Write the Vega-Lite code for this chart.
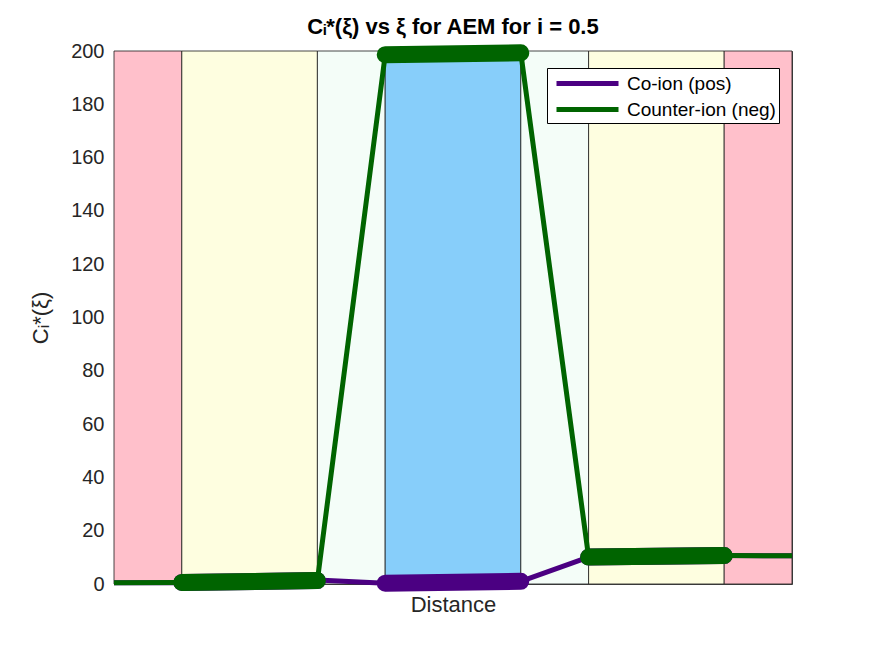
{
  "$schema": "https://vega.github.io/schema/vega-lite/v6.json",
  "width": 678,
  "height": 533,
  "autosize": "none",
  "padding": {"left": 114, "top": 51, "right": 83, "bottom": 72},
  "background": "white",
  "title": {"text": "Cᵢ*(ξ) vs ξ for AEM for i = 0.5", "fontSize": 22, "fontWeight": "bold", "font": "Liberation Sans", "color": "#000000", "offset": 16, "dy": 36, "anchor": "middle", "frame": "group"},
  "config": {
    "view": {"stroke": "#4d4d4d", "strokeWidth": 1},
    "font": "Liberation Sans",
    "axis": {"grid": false, "domainColor": "#4d4d4d", "tickColor": "#262626", "labelColor": "#262626", "titleColor": "#262626", "labelFontSize": 20, "titleFontSize": 22, "titleFontWeight": "normal", "labelFont": "Liberation Sans", "titleFont": "Liberation Sans"}
  },
  "datasets": {
    "zones": [
      {"zone": "Bulk", "x0": 0, "x1": 1},
      {"zone": "Diffusion layer", "x0": 1, "x1": 3},
      {"zone": "Interface", "x0": 3, "x1": 4},
      {"zone": "Membrane", "x0": 4, "x1": 6},
      {"zone": "Interface", "x0": 6, "x1": 7},
      {"zone": "Diffusion layer", "x0": 7, "x1": 9},
      {"zone": "Bulk", "x0": 9, "x1": 10}
    ],
    "profile": [
      {"ion": "Co-ion (pos)", "x": 0, "c": 0.5},
      {"ion": "Co-ion (pos)", "x": 1, "c": 0.5},
      {"ion": "Co-ion (pos)", "x": 3, "c": 1.5},
      {"ion": "Co-ion (pos)", "x": 4, "c": 0.3},
      {"ion": "Co-ion (pos)", "x": 6, "c": 1.0},
      {"ion": "Co-ion (pos)", "x": 7, "c": 10.1},
      {"ion": "Co-ion (pos)", "x": 9, "c": 10.7},
      {"ion": "Co-ion (pos)", "x": 10, "c": 10.6},
      {"ion": "Counter-ion (neg)", "x": 0, "c": 0.5},
      {"ion": "Counter-ion (neg)", "x": 1, "c": 0.6},
      {"ion": "Counter-ion (neg)", "x": 3, "c": 1.3},
      {"ion": "Counter-ion (neg)", "x": 4, "c": 198.6},
      {"ion": "Counter-ion (neg)", "x": 6, "c": 199.3},
      {"ion": "Counter-ion (neg)", "x": 7, "c": 10.1},
      {"ion": "Counter-ion (neg)", "x": 9, "c": 10.7},
      {"ion": "Counter-ion (neg)", "x": 10, "c": 10.6}
    ],
    "inside": [
      {"ion": "Co-ion (pos)", "seg": "DL1", "x": 1, "c": 0.6},
      {"ion": "Co-ion (pos)", "seg": "DL1", "x": 3, "c": 1.3},
      {"ion": "Co-ion (pos)", "seg": "M", "x": 4, "c": 0.3},
      {"ion": "Co-ion (pos)", "seg": "M", "x": 6, "c": 1.0},
      {"ion": "Co-ion (pos)", "seg": "DL2", "x": 7, "c": 10.1},
      {"ion": "Co-ion (pos)", "seg": "DL2", "x": 9, "c": 10.7},
      {"ion": "Counter-ion (neg)", "seg": "DL1", "x": 1, "c": 0.6},
      {"ion": "Counter-ion (neg)", "seg": "DL1", "x": 3, "c": 1.3},
      {"ion": "Counter-ion (neg)", "seg": "M", "x": 4, "c": 198.6},
      {"ion": "Counter-ion (neg)", "seg": "M", "x": 6, "c": 199.3},
      {"ion": "Counter-ion (neg)", "seg": "DL2", "x": 7, "c": 10.1},
      {"ion": "Counter-ion (neg)", "seg": "DL2", "x": 9, "c": 10.7}
    ]
  },
  "layer": [
    {
      "data": {"name": "zones"},
      "mark": {"type": "rect", "stroke": "#1a1a1a", "strokeWidth": 0.8},
      "encoding": {
        "x": {"field": "x0", "type": "quantitative", "scale": {"domain": [0, 10], "nice": false, "zero": false}, "axis": {"labels": false, "ticks": false, "title": "Distance", "titlePadding": 10}},
        "x2": {"field": "x1"},
        "y": {"datum": 0, "type": "quantitative", "scale": {"domain": [0, 200], "nice": false}, "axis": {"values": [0,20,40,60,80,100,120,140,160,180,200], "tickSize": -6, "labelPadding": 16, "title": "Cᵢ*(ξ)", "titlePadding": 18}},
        "y2": {"datum": 200},
        "fill": {"field": "zone", "type": "nominal", "scale": {"domain": ["Bulk", "Diffusion layer", "Interface", "Membrane"], "range": ["#ffc0cb", "#fefee0", "#f4fdf8", "#87cefa"]}, "legend": null}
      }
    },
    {
      "data": {"name": "profile"},
      "transform": [{"filter": "datum.ion === 'Co-ion (pos)'"}],
      "mark": {"type": "line", "strokeWidth": 5, "strokeJoin": "round"},
      "encoding": {
        "x": {"field": "x", "type": "quantitative"},
        "y": {"field": "c", "type": "quantitative"},
        "stroke": {"field": "ion", "type": "nominal", "scale": {"domain": ["Co-ion (pos)", "Counter-ion (neg)"], "range": ["#4b0082", "#006400"]},
          "legend": {"title": null, "orient": "none", "legendX": 433, "legendY": 17, "fillColor": "white", "strokeColor": "#000000", "padding": 3, "labelFontSize": 19, "labelFont": "Liberation Sans", "labelColor": "#000000", "symbolType": "M-0.6,0H5.6", "symbolSize": 400, "symbolStrokeWidth": 5, "rowPadding": 3, "labelOffset": 52}}
      }
    },
    {
      "data": {"name": "inside"},
      "transform": [{"filter": "datum.ion === 'Co-ion (pos)'"}],
      "mark": {"type": "line", "strokeWidth": 17, "strokeCap": "round"},
      "encoding": {
        "x": {"field": "x", "type": "quantitative"},
        "y": {"field": "c", "type": "quantitative"},
        "detail": {"field": "seg"},
        "stroke": {"field": "ion", "type": "nominal"}
      }
    },
    {
      "data": {"name": "profile"},
      "transform": [{"filter": "datum.ion === 'Counter-ion (neg)'"}],
      "mark": {"type": "line", "strokeWidth": 5, "strokeJoin": "round"},
      "encoding": {
        "x": {"field": "x", "type": "quantitative"},
        "y": {"field": "c", "type": "quantitative"},
        "stroke": {"field": "ion", "type": "nominal"}
      }
    },
    {
      "data": {"name": "inside"},
      "transform": [{"filter": "datum.ion === 'Counter-ion (neg)'"}],
      "mark": {"type": "line", "strokeWidth": 17, "strokeCap": "round"},
      "encoding": {
        "x": {"field": "x", "type": "quantitative"},
        "y": {"field": "c", "type": "quantitative"},
        "detail": {"field": "seg"},
        "stroke": {"field": "ion", "type": "nominal"}
      }
    }
  ]
}
